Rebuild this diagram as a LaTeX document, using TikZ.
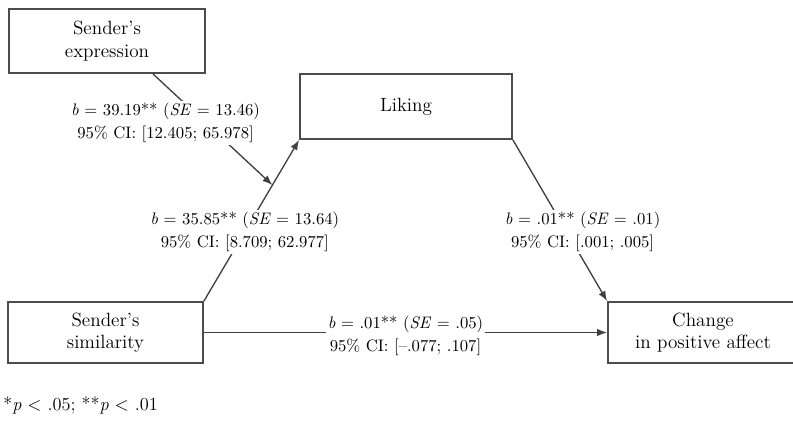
\documentclass[tikz,border=0pt]{standalone}
\usepackage{tikz}
\usetikzlibrary{positioning, arrows.meta}

\begin{document}
\begin{tikzpicture}[x=0.6pt,y=-0.6pt,
	main/.style = {draw=black!70, line width=1.1pt, align=center, font=\fontsize{11.5}{13.4}\selectfont},
	coef/.style = {fill=white, align=center, inner sep=1.2pt, font=\fontsize{10}{14.2}\selectfont},
	link/.style = {draw=black!75, line width=0.8pt},
	arr/.style = {link, -{Latex[length=6pt,width=4.5pt]}}]
	\useasboundingbox (0,0) rectangle (793,422);
	\node[main, minimum width=117.6pt, minimum height=38.4pt] (expr) at (107,41) {Sender's\\expression};
	\node[main, minimum width=127.2pt, minimum height=39pt] (liking) at (406,106.5) {Liking};
	\node[main, minimum width=117pt, minimum height=36.6pt] (sim) at (105.5,332.5) {Sender's\\similarity};
	\node[main, minimum width=114pt, minimum height=36.6pt] (change) at (703,332.5) {Change\\in positive affect};
	\draw[arr] (sim.north east) -- node[coef, pos=0.43] (aLab) {\textit{b} = 35.85** (\textit{SE} = 13.64)\\95\% CI: [8.709; 62.977]} coordinate[pos=0.72] (hit) (liking.south west);
	\draw[arr] ([xshift=27.6pt]expr.south) -- node[coef, pos=0.44, xshift=-24pt] (modLab) {\textit{b} = 39.19** (\textit{SE} = 13.46)\\95\% CI: [12.405; 65.978]} (hit);
	\draw[arr] (liking.south east) -- node[coef, pos=0.57, xshift=9.6pt] (bLab) {\textit{b} = .01** (\textit{SE} = .01)\\95\% CI: [.001; .005]} (change.north west);
	\draw[arr] (sim.east) -- node[coef, yshift=-2pt] (cLab) {\textit{b} = .01** (\textit{SE} = .05)\\95\% CI: [--.077; .107]} (change.west);
	\node[anchor=base west, inner sep=0pt, font=\fontsize{11}{14}\selectfont] (note) at (3,410) {*\textit{p} $<$ .05; **\textit{p} $<$ .01};
\end{tikzpicture}
\end{document}
